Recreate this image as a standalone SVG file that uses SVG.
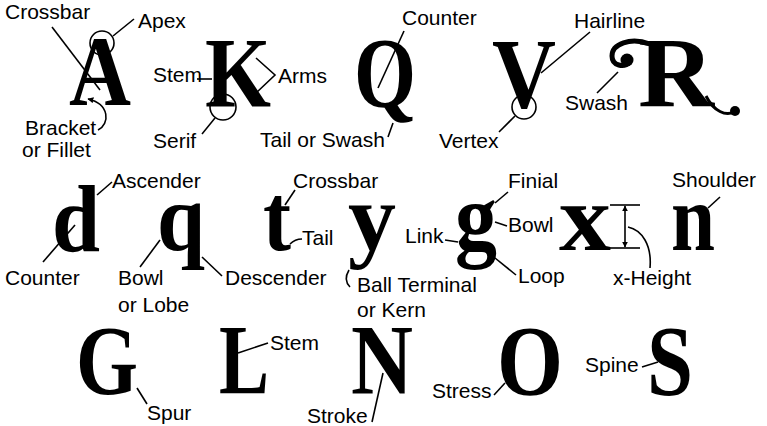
<svg xmlns="http://www.w3.org/2000/svg" width="767" height="426" viewBox="0 0 767 426">
<style>
.g{font-family:"Liberation Serif","Times New Roman",serif;font-weight:bold;font-size:100px;fill:#000;text-anchor:middle}
.s{font-size:96px}
.lb{font-family:"Liberation Sans",Arial,Helvetica,sans-serif;font-size:21px;fill:#000}
.ln{stroke:#000;stroke-width:1.6;fill:none}
</style>
<defs>
<marker id="ah" viewBox="0 0 10 10" refX="9" refY="5" markerWidth="6" markerHeight="6" orient="auto-start-reverse" markerUnits="userSpaceOnUse">
<path d="M0,0 L10,5 L0,10 z" fill="#000"/>
</marker>
</defs>
<rect width="767" height="426" fill="#fff"/>
<g id="A"><text class="g" x="100" y="105" textLength="62" lengthAdjust="spacingAndGlyphs">A</text><text class="lb" x="5" y="19">Crossbar</text><text class="lb" x="138" y="28">Apex</text><text class="lb" x="25" y="135">Bracket</text><text class="lb" x="22" y="157">or Fillet</text></g>
<g id="K"><text class="g" x="238" y="106" textLength="66" lengthAdjust="spacingAndGlyphs">K</text><text class="lb" x="153" y="82">Stem</text><text class="lb" x="278" y="83">Arms</text><text class="lb" x="153" y="148">Serif</text></g>
<g id="Q"><text class="g" x="385" y="106" textLength="62" lengthAdjust="spacingAndGlyphs">Q</text><text class="lb" x="402" y="25">Counter</text><text class="lb" x="260" y="147">Tail or Swash</text></g>
<g id="V"><text class="g" x="524" y="107" textLength="64" lengthAdjust="spacingAndGlyphs">V</text><text class="lb" x="574" y="28">Hairline</text><text class="lb" x="439" y="148">Vertex</text></g>
<g id="R"><text class="g" x="676" y="106" textLength="76" lengthAdjust="spacingAndGlyphs">R</text><path d="M650 44 C630 37 612 44 612 56 C612 66 624 68 630 62" fill="none" stroke="#000" stroke-width="5"/><circle cx="627" cy="60" r="6.5"/><path d="M706 96 C714 112 726 116 734 112" fill="none" stroke="#000" stroke-width="3"/><circle cx="735" cy="111" r="5"/><text class="lb" x="565" y="110">Swash</text></g>
<g id="d"><text class="g s" x="76" y="251" textLength="48" lengthAdjust="spacingAndGlyphs">d</text><text class="lb" x="112" y="188">Ascender</text><text class="lb" x="5" y="285">Counter</text></g>
<g id="q"><text class="g s" x="181" y="250" textLength="48" lengthAdjust="spacingAndGlyphs">q</text><text class="lb" x="118" y="285">Bowl</text><text class="lb" x="118" y="312">or Lobe</text><text class="lb" x="225" y="285">Descender</text></g>
<g id="t"><text class="g s" x="277" y="250" textLength="28" lengthAdjust="spacingAndGlyphs">t</text><text class="lb" x="293" y="188">Crossbar</text><text class="lb" x="302" y="245">Tail</text></g>
<g id="y"><text class="g s" x="372" y="250" textLength="48" lengthAdjust="spacingAndGlyphs">y</text><text class="lb" x="357" y="292">Ball Terminal</text><text class="lb" x="357" y="317">or Kern</text></g>
<g id="gg"><text class="g s" x="476" y="250" textLength="42" lengthAdjust="spacingAndGlyphs">g</text><text class="lb" x="508" y="188">Finial</text><text class="lb" x="508" y="232">Bowl</text><text class="lb" x="405" y="243">Link</text><text class="lb" x="518" y="283">Loop</text></g>
<g id="x"><text class="g s" x="585" y="250" textLength="52" lengthAdjust="spacingAndGlyphs">x</text><text class="lb" x="613" y="285">x-Height</text></g>
<g id="n"><text class="g s" x="693" y="250" textLength="44" lengthAdjust="spacingAndGlyphs">n</text><text class="lb" x="672" y="187">Shoulder</text></g>
<g id="G"><text class="g" x="107" y="394" textLength="62" lengthAdjust="spacingAndGlyphs">G</text><text class="lb" x="147" y="420">Spur</text></g>
<g id="L"><text class="g" x="244" y="393" textLength="50" lengthAdjust="spacingAndGlyphs">L</text><text class="lb" x="270" y="350">Stem</text></g>
<g id="N"><text class="g" x="382" y="393" textLength="62" lengthAdjust="spacingAndGlyphs">N</text><text class="lb" x="307" y="423">Stroke</text></g>
<g id="O"><text class="g" x="530" y="394" textLength="66" lengthAdjust="spacingAndGlyphs">O</text><text class="lb" x="432" y="398">Stress</text></g>
<g id="S"><text class="g" x="670" y="394" textLength="46" lengthAdjust="spacingAndGlyphs">S</text><text class="lb" x="585" y="372">Spine</text></g>
<g id="connectors" class="ln">
<circle cx="102" cy="43" r="12"/><line x1="113" y1="36" x2="134" y2="19"/>
<line x1="52" y1="27" x2="100" y2="90"/>
<line x1="197" y1="79" x2="212" y2="79"/>
<polyline points="256,58 275,75 256,93"/>
<circle cx="223" cy="107" r="13"/><line x1="215" y1="118" x2="202" y2="134"/>
<path d="M98 130 C110 124 110 104 88 99" marker-end="url(#ah)"/>
<line x1="404" y1="31" x2="378" y2="88"/>
<line x1="393" y1="123" x2="388" y2="137"/>
<circle cx="524" cy="107" r="12"/><line x1="515" y1="116" x2="499" y2="132"/>
<line x1="590" y1="32" x2="541" y2="73"/>
<line x1="597" y1="93" x2="618" y2="72"/>
<line x1="112" y1="182" x2="97" y2="195"/>
<line x1="75" y1="225" x2="43" y2="262"/>
<line x1="160" y1="240" x2="140" y2="267"/>
<line x1="202" y1="257" x2="222" y2="276"/>
<line x1="295" y1="190" x2="285" y2="205"/>
<path d="M290 244 Q295 239 302 239"/>
<path d="M349 270 Q343 280 350 287"/>
<line x1="508" y1="192" x2="495" y2="203"/>
<line x1="495" y1="222" x2="507" y2="226"/>
<line x1="445" y1="240" x2="458" y2="242"/>
<line x1="495" y1="258" x2="516" y2="275"/>
<line x1="610" y1="205" x2="640" y2="205"/><line x1="610" y1="248" x2="640" y2="248"/>
<line x1="625" y1="206" x2="625" y2="247" marker-start="url(#ah)" marker-end="url(#ah)"/>
<path d="M650 268 C652 245 642 230 628 227"/>
<line x1="720" y1="197" x2="708" y2="208"/>
<line x1="137" y1="388" x2="147" y2="404"/>
<line x1="238" y1="353" x2="268" y2="343"/>
<line x1="383" y1="373" x2="372" y2="422"/>
<line x1="494" y1="395" x2="505" y2="383"/>
<line x1="642" y1="367" x2="658" y2="362"/>
</g>
</svg>
